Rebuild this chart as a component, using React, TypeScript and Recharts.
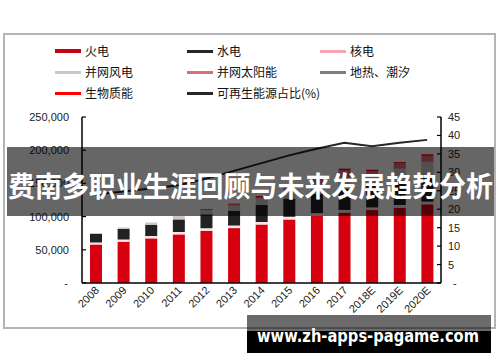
import React from 'react';
import { ComposedChart, Bar, Line, XAxis, YAxis } from 'recharts';

// ---- data (万千瓦 / %) ----
const years = ['2008', '2009', '2010', '2011', '2012', '2013', '2014', '2015', '2016', '2017', '2018E', '2019E', '2020E'];
const thermal = [58000, 62200, 67200, 73200, 78700, 82700, 88100, 95700, 101200, 106000, 109800, 113500, 118500];
const nuclear = [3000, 3300, 3600, 3600, 3800, 3800, 3800, 4000, 4000, 4000, 4000, 4000, 4000];
const hydro = [13000, 16000, 17000, 19000, 21000, 22400, 25400, 27500, 29000, 32000, 33000, 34500, 36000];
const wind = [900, 1800, 3000, 4600, 6300, 7700, 9700, 13000, 14700, 16000, 17500, 20000, 23500];
const geothermal = [100, 100, 100, 100, 100, 100, 100, 100, 100, 200, 300, 400, 500];
const solar = [0, 50, 100, 300, 400, 1500, 2500, 4200, 7600, 12000, 4000, 7500, 9000];
const biomass = [0, 0, 0, 0, 1000, 1200, 1300, 1300, 1500, 2000, 2000, 2200, 2400];
const renewableShare = [24.0, 24.8, 25.6, 26.5, 28.3, 30.4, 32.5, 34.6, 36.4, 38.0, 37.1, 38.0, 38.8];

const leftTicks = [0, 50000, 100000, 150000, 200000, 250000];
const rightTicks = [0, 5, 10, 15, 20, 25, 30, 35, 40, 45];

const data = years.map((year, i) => ({
  year,
  thermal: thermal[i],
  nuclear: nuclear[i],
  hydro: hydro[i],
  wind: wind[i],
  geothermal: geothermal[i],
  solar: solar[i],
  biomass: biomass[i],
  share: renewableShare[i],
}));

const legendItems = [
  { label: '火电', color: '#c8000f', col: 0, row: 0, thick: 4 },
  { label: '水电', color: '#262626', col: 1, row: 0, thick: 3 },
  { label: '核电', color: '#f4a7b2', col: 2, row: 0, thick: 3 },
  { label: '并网风电', color: '#c8c8c8', col: 0, row: 1, thick: 3 },
  { label: '并网太阳能', color: '#e36a7b', col: 1, row: 1, thick: 3 },
  { label: '地热、潮汐', color: '#7f7f7f', col: 2, row: 1, thick: 3 },
  { label: '生物质能', color: '#ff0000', col: 0, row: 2, thick: 3 },
  { label: '可再生能源占比(%)', color: '#262626', col: 1, row: 2, thick: 3 },
];
const colX = [55, 187, 320];
const rowY = [51, 72, 93];

const NUM_FONT = '"Liberation Sans", Arial, sans-serif';
const CJK_FONT = '"Noto Sans CJK SC", "Noto Sans", sans-serif';

const LeftTick = (props: any) => {
  const { x, y, payload } = props;
  const v = payload.value as number;
  const label = v === 0 ? '-' : v.toLocaleString('en-US');
  return (
    <g>
      <line x1={x + 13} x2={x + 17} y1={y} y2={y} stroke="#000" strokeWidth={1.2} />
      <text x={v === 0 ? x - 1 : x} y={y} dy={4} textAnchor="end" fontSize={11} fontFamily={NUM_FONT} fill="#222">
        {label}
      </text>
    </g>
  );
};

const RightTick = (props: any) => {
  const { x, y, payload } = props;
  const v = payload.value as number;
  const label = v === 0 ? '-' : String(v);
  return (
    <g>
      <line x1={x - 7} x2={x - 11} y1={y} y2={y} stroke="#000" strokeWidth={1.2} />
      <text x={v === 0 ? x + 5 : x} y={y} dy={4} textAnchor="start" fontSize={11} fontFamily={NUM_FONT} fill="#222">
        {label}
      </text>
    </g>
  );
};

const XTick = (props: any) => {
  const { x, y, payload } = props;
  return (
    <text
      x={x + 4}
      y={y + 8}
      textAnchor="end"
      fontSize={11}
      fontFamily={NUM_FONT}
      fill="#222"
      transform={`rotate(-45 ${x + 4} ${y + 8})`}
    >
      {payload.value}
    </text>
  );
};

export default function App() {
  return (
    <div style={{ position: 'absolute', left: 0, top: 0, width: 500, height: 362, background: '#fff', overflow: 'hidden' }}>
      <div
        style={{
          position: 'absolute',
          left: 3,
          top: 33,
          width: 493,
          height: 296,
          border: '2px solid #b4b4b4',
          boxSizing: 'border-box',
        }}
      />
      {legendItems.map((it) => (
        <div
          key={it.label}
          style={{
            position: 'absolute',
            left: colX[it.col],
            top: rowY[it.row] - 9,
            height: 18,
            display: 'flex',
            alignItems: 'center',
            whiteSpace: 'nowrap',
          }}
        >
          <div style={{ width: 26, height: it.thick, background: it.color }} />
          <span style={{ marginLeft: 4, fontSize: 12, fontFamily: CJK_FONT, color: '#111', lineHeight: '18px' }}>
            {it.label}
          </span>
        </div>
      ))}
      <div style={{ position: 'absolute', left: 0, top: 0 }}>
        <ComposedChart width={500} height={362} data={data} margin={{ top: 117, right: 5, bottom: 34, left: 8 }} barCategoryGap={0}>
          <XAxis
            dataKey="year"
            interval={0}
            height={45}
            tickLine={false}
            tickSize={0}
            tickMargin={0}
            axisLine={{ stroke: '#000', strokeWidth: 1.5 }}
            tick={<XTick />}
          />
          <YAxis
            yAxisId="left"
            orientation="left"
            width={74}
            domain={[0, 250000]}
            ticks={leftTicks}
            interval={0}
            tickLine={false}
            tickSize={0}
            tickMargin={13}
            axisLine={{ stroke: '#000', strokeWidth: 1.5 }}
            tick={<LeftTick />}
          />
          <YAxis
            yAxisId="right"
            orientation="right"
            width={54}
            domain={[0, 45]}
            ticks={rightTicks}
            interval={0}
            tickLine={false}
            tickSize={0}
            tickMargin={7}
            axisLine={{ stroke: '#000', strokeWidth: 1.5 }}
            tick={<RightTick />}
          />
          <Bar yAxisId="left" dataKey="thermal" stackId="a" fill="#d6000f" barSize={12} isAnimationActive={false} />
          <Bar yAxisId="left" dataKey="nuclear" stackId="a" fill="#fbe1e5" barSize={12} isAnimationActive={false} />
          <Bar yAxisId="left" dataKey="hydro" stackId="a" fill="#222222" barSize={12} isAnimationActive={false} />
          <Bar yAxisId="left" dataKey="wind" stackId="a" fill="#c8c8c8" barSize={12} isAnimationActive={false} />
          <Bar yAxisId="left" dataKey="geothermal" stackId="a" fill="#7f7f7f" barSize={12} isAnimationActive={false} />
          <Bar yAxisId="left" dataKey="solar" stackId="a" fill="#e36a7b" barSize={12} isAnimationActive={false} />
          <Bar yAxisId="left" dataKey="biomass" stackId="a" fill="#ff0000" barSize={12} isAnimationActive={false} />
          <Line
            yAxisId="right"
            dataKey="share"
            type="linear"
            stroke="#262626"
            strokeWidth={2}
            dot={false}
            isAnimationActive={false}
          />
        </ComposedChart>
      </div>
      <svg width={500} height={362} style={{ position: 'absolute', left: 0, top: 0, pointerEvents: 'none' }}>
        <rect x={7} y={147} width={487} height={69} fill="rgba(0,0,0,0.6)" />
        <text
          x={8}
          y={197}
          fontSize={28}
          fontWeight="bold"
          fontFamily={CJK_FONT}
          fill="#fff"
          textLength={485}
          lengthAdjust="spacingAndGlyphs"
        >
          费南多职业生涯回顾与未来发展趋势分析
        </text>
        <rect x={247} y={315} width={244} height={16} fill="rgba(0,0,0,0.58)" />
        <rect x={247} y={331} width={244} height={22} fill="#000" />
        <text
          x={257}
          y={342}
          fontSize={18}
          fontWeight="bold"
          fontFamily='"DejaVu Sans", sans-serif'
          fill="#fff"
          textLength={222}
          lengthAdjust="spacingAndGlyphs"
        >
          www.zh-apps-pagame.com
        </text>
      </svg>
    </div>
  );
}
